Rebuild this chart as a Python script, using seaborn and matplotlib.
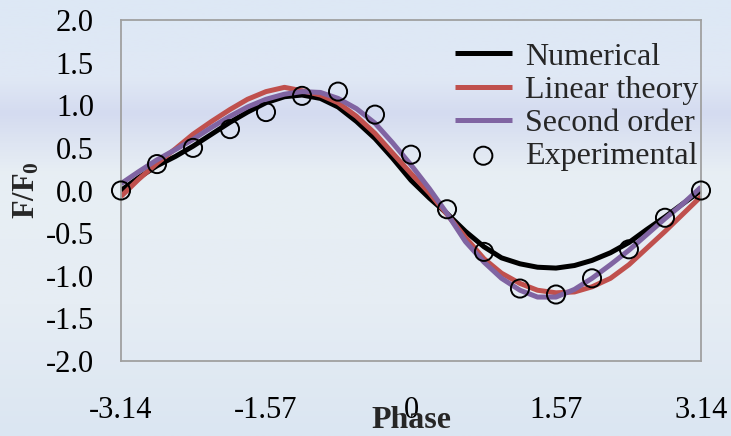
import numpy as np
import pandas as pd
import matplotlib
matplotlib.use("Agg")
import matplotlib.pyplot as plt
from matplotlib.colors import to_rgb
import seaborn as sns

# --- data (phase in rad, force ratio F/F0) ---
phase = [-3.14, -2.95, -2.75, -2.55, -2.36, -2.16, -1.96, -1.77, -1.57, -1.37,
         -1.18, -0.98, -0.79, -0.59, -0.39, -0.20, 0.00, 0.20, 0.39, 0.59,
         0.79, 0.98, 1.18, 1.37, 1.57, 1.77, 1.96, 2.16, 2.36, 2.55,
         2.75, 2.95, 3.14]

numerical = [0.00, 0.15, 0.29, 0.40, 0.52, 0.66, 0.80, 0.92, 1.03, 1.10,
             1.12, 1.08, 0.98, 0.81, 0.61, 0.38, 0.12, -0.09, -0.27, -0.48,
             -0.66, -0.79, -0.86, -0.90, -0.91, -0.88, -0.82, -0.73, -0.61, -0.46,
             -0.31, -0.15, 0.00]

linear_theory = [-0.07, 0.13, 0.32, 0.49, 0.66, 0.81, 0.95, 1.07, 1.16, 1.21,
                 1.17, 1.12, 1.03, 0.87, 0.67, 0.44, 0.20, -0.03, -0.28, -0.55,
                 -0.80, -0.97, -1.09, -1.17, -1.20, -1.19, -1.13, -1.03, -0.87, -0.68,
                 -0.48, -0.27, -0.07]

second_order = [0.08, 0.22, 0.36, 0.48, 0.60, 0.74, 0.87, 0.98, 1.07, 1.13,
                1.16, 1.15, 1.08, 0.96, 0.79, 0.56, 0.30, 0.02, -0.27, -0.60,
                -0.84, -1.03, -1.17, -1.25, -1.25, -1.16, -1.03, -0.87, -0.70, -0.52,
                -0.33, -0.15, 0.04]

exp_phase = [-3.14, -2.75, -2.36, -1.96, -1.57, -1.18, -0.79, -0.39, 0.00,
             0.39, 0.79, 1.18, 1.57, 1.96, 2.36, 2.75, 3.14]
experimental = [0.00, 0.31, 0.50, 0.72, 0.92, 1.11, 1.16, 0.89, 0.42,
                -0.22, -0.72, -1.15, -1.22, -1.03, -0.69, -0.32, 0.00]

x_ticks = [-3.14, -1.57, 0.0, 1.57, 3.14]
x_ticklabels = ["-3.14", "-1.57", "0", "1.57", "3.14"]
y_ticks = [-2.0, -1.5, -1.0, -0.5, 0.0, 0.5, 1.0, 1.5, 2.0]
y_ticklabels = ["-2.0", "-1.5", "-1.0", "-0.5", "0.0", "0.5", "1.0", "1.5", "2.0"]

# --- style ---
sns.set_theme(style="white")
plt.rcParams["font.family"] = ["Liberation Serif", "DejaVu Serif"]
plt.rcParams["mathtext.fontset"] = "custom"
plt.rcParams["mathtext.rm"] = "Liberation Serif"
plt.rcParams["mathtext.bf"] = "Liberation Serif:bold"

fig = plt.figure(figsize=(7.31, 4.36), dpi=100)

# soft sky-like backdrop
bg = fig.add_axes([0, 0, 1, 1], zorder=-10)
stops = [0.0, 0.18, 0.26, 0.40, 0.70, 1.0]
cols = ["#dde8f5", "#e0e8f5", "#d4dbf0", "#e8eff4", "#e6edf4", "#dbe6f2"]
yy = np.linspace(0, 1, 200)
rgb = np.array([to_rgb(c) for c in cols])
grad = np.stack([np.interp(yy, stops, rgb[:, i]) for i in range(3)], axis=1)
bg.imshow(grad[:, None, :], aspect="auto", extent=[0, 1, 0, 1])
bg.axis("off")

ax = fig.add_axes([121 / 731, 75 / 436, 580 / 731, 341 / 436])
ax.set_facecolor("none")

df = pd.DataFrame({"phase": phase, "num": numerical,
                   "lin": linear_theory, "sec": second_order})
df_exp = pd.DataFrame({"phase": exp_phase, "exp": experimental})

line_kw = dict(linewidth=3.6, estimator=None, solid_capstyle="butt", ax=ax)
sns.lineplot(data=df, x="phase", y="num", color="black", label="Numerical", **line_kw)
sns.lineplot(data=df, x="phase", y="lin", color="#c0504d", label="Linear theory", **line_kw)
sns.lineplot(data=df, x="phase", y="sec", color="#8064a2", label="Second order", **line_kw)
sns.scatterplot(data=df_exp, x="phase", y="exp", marker="o", s=170, color="black",
                facecolor="none", edgecolor="black", linewidth=1.4,
                label="Experimental", clip_on=False, zorder=5, ax=ax)

ax.set_xlim(-3.14, 3.14)
ax.set_ylim(-2.0, 2.0)
ax.set_xticks(x_ticks)
ax.set_xticklabels(x_ticklabels)
ax.set_yticks(y_ticks)
ax.set_yticklabels(y_ticklabels)

for sp in ax.spines.values():
    sp.set_color("#a0a0a0")
    sp.set_linewidth(1.3)

ax.tick_params(axis="both", direction="out", length=6.5, width=1.2,
               color="#a0a0a0", labelsize=22, labelcolor="black")
ax.tick_params(axis="y", pad=13)
ax.tick_params(axis="x", pad=19)

ax.set_xlabel("Phase", fontsize=23, fontweight="bold")
ax.xaxis.set_label_coords(0.5, -0.131)
ax.set_ylabel(r"$\mathbf{F/F_0}$", fontsize=22)
ax.yaxis.set_label_coords(-0.137, 0.5)

ax.legend(loc="upper right", bbox_to_anchor=(0.995, 0.935), frameon=False,
          fontsize=23, labelspacing=0.12, handlelength=1.8, handletextpad=0.4,
          borderpad=0.0, borderaxespad=0.0)

fig.savefig("out.png", dpi=100)
